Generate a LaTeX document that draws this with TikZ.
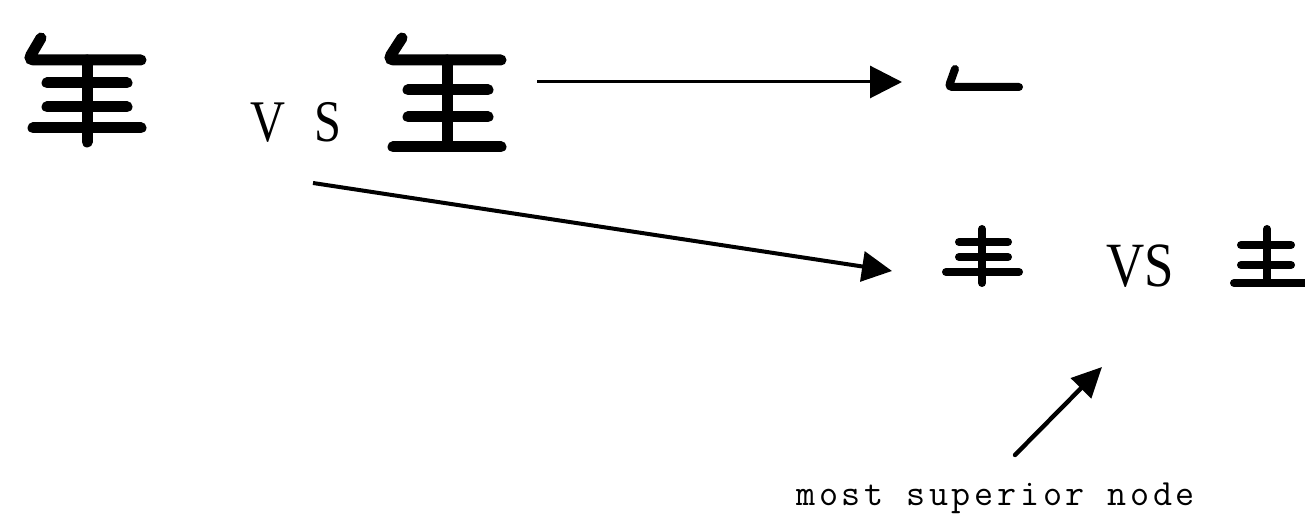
\documentclass[tikz,border=0pt]{standalone}
\usepackage{fontspec}
\setmainfont{Liberation Serif}
\newfontfamily\notefont[LetterSpace=10]{Latin Modern Mono}
\usetikzlibrary{arrows.meta}

\tikzset{
	bigstroke/.style={line width=5.5pt, line cap=round},
	smallstroke/.style={line width=4pt, line cap=round},
	vs/.style={anchor=base, inner sep=0pt},
}

\begin{document}
\begin{tikzpicture}[x=0.5pt, y=-0.5pt]
			\useasboundingbox (0,0) rectangle (1305,528);
			% first component
			\draw [bigstroke] (41,38) -- (31,55) .. controls (29,59) and (31,60) .. (36,60) -- (141,60);
			\draw [bigstroke] (47,83) -- (127,83);
			\draw [bigstroke] (47,107) -- (127,107);
			\draw [bigstroke] (33,128) -- (141,128);
			\draw [bigstroke] (87,60) -- (87,142);
			\node [vs, font=\fontsize{29.5}{30}\selectfont] (vsTop) at (296,142) {\scalebox{0.82}[1]{V\hspace{0.6em}S}};
			% second component
			\draw [bigstroke] (402,38) -- (391,55) .. controls (389,59) and (391,60) .. (396,60) -- (501,60);
			\draw [bigstroke] (408,90) -- (488,90);
			\draw [bigstroke] (408,117) -- (488,117);
			\draw [bigstroke] (393,147) -- (501,147);
			\draw [bigstroke] (447,60) -- (447,141);
			% split parts
			\draw [smallstroke] (955,69) -- (950,83) .. controls (949,86) and (950,87) .. (954,87) -- (1019,87);
			\draw [smallstroke] (982,229) -- (982,283);
			\draw [smallstroke] (959,242) -- (1008,242);
			\draw [smallstroke] (959,257) -- (1008,257);
			\draw [smallstroke] (946,272) -- (1019,272);
			\node [vs, font=\fontsize{31.5}{32}\selectfont] (vsLow) at (1140,287) {\scalebox{0.84}[1]{VS}};
			\draw [smallstroke] (1267,229) -- (1267,283);
			\draw [smallstroke] (1241,245) -- (1291,245);
			\draw [smallstroke] (1241,265) -- (1291,265);
			\draw [smallstroke] (1234,283) -- (1310,283);
			\node [anchor=base west, inner sep=0pt, font=\notefont\fontsize{18.5}{19}\selectfont] (sup) at (796,505) {most superior node};
			% arrows
			\coordinate (topTail) at (537,82);
			\coordinate (topTip) at (902,82);
			\coordinate (diagTail) at (313,183);
			\coordinate (diagTip) at (892,271);
			\coordinate (supTail) at (1015,455);
			\coordinate (supTip) at (1102,367);
			\draw [-{Triangle[length=16pt, width=16pt]}, line width=1.5pt] (topTail) -- (topTip);
			\draw [-{Triangle[length=15pt, width=15pt]}, line width=2pt] (diagTail) -- (diagTip);
			\draw [-{Triangle[length=15pt, width=14pt]}, line width=2.2pt, line cap=round] (supTail) -- (supTip);
	\end{tikzpicture}
\end{document}
